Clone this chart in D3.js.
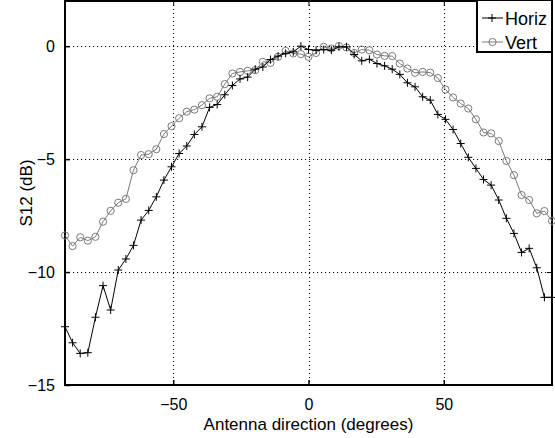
<!DOCTYPE html>
<html lang="en">
<head>
<meta charset="UTF-8">
<title>S12 vs antenna direction</title>
<style>
    body { margin: 0; background: #fff; }
    svg { display: block; font-family: "Liberation Sans", Arial, sans-serif; }
    .tick text { font-size: 16px; fill: #000; }
</style>
</head>
<body>
<svg width="555" height="438"></svg>
<script src="https://d3js.org/d3.v7.min.js"></script>
<script>
    // angle steps (degrees)
    const angles = [-90, -87.19, -84.38, -81.56, -78.75, -75.94, -73.13, -70.31, -67.5, -64.69,
        -61.88, -59.06, -56.25, -53.44, -50.63, -47.81, -45, -42.19, -39.38, -36.56,
        -33.75, -30.94, -28.13, -25.31, -22.5, -19.69, -16.88, -14.06, -11.25, -8.44,
        -5.63, -2.81, 0, 2.81, 5.63, 8.44, 11.25, 14.06, 16.88, 19.69,
        22.5, 25.31, 28.13, 30.94, 33.75, 36.56, 39.38, 42.19, 45, 47.81,
        50.63, 53.44, 56.25, 59.06, 61.88, 64.69, 67.5, 70.31, 73.13, 75.94,
        78.75, 81.56, 84.38, 87.19, 90];

    const horiz = [-12.42, -13.13, -13.60, -13.57, -12.0, -10.6, -11.68, -9.91, -9.42, -8.82,
        -7.70, -7.27, -6.67, -5.93, -5.34, -4.75, -4.42, -3.91, -3.57, -2.71,
        -2.58, -2.15, -1.74, -1.45, -1.37, -1.02, -0.92, -0.59, -0.44, -0.32,
        -0.25, 0.0, -0.15, -0.18, -0.15, -0.18, -0.03, -0.03, -0.37, -0.65,
        -0.58, -0.77, -0.87, -1.02, -1.25, -1.62, -1.80, -2.24, -2.39, -3.02,
        -3.24, -3.69, -4.31, -4.92, -5.41, -5.90, -6.15, -6.81, -7.62, -8.29,
        -9.13, -8.95, -9.81, -11.12, -11.12];

    const vert = [-8.38, -8.85, -8.46, -8.61, -8.44, -7.77, -7.29, -6.93, -6.76, -5.49,
        -4.82, -4.78, -4.56, -3.89, -3.54, -3.19, -2.90, -2.81, -2.61, -2.31,
        -2.24, -1.68, -1.21, -1.14, -1.09, -1.06, -0.69, -0.74, -0.47, -0.21,
        -0.32, -0.35, -0.47, -0.30, -0.03, -0.10, 0.01, -0.06, -0.30, -0.15,
        -0.18, -0.37, -0.43, -0.44, -0.77, -0.99, -1.18, -1.14, -1.17, -1.41,
        -1.92, -2.27, -2.54, -2.76, -3.24, -3.82, -3.86, -4.20, -5.08, -5.71,
        -6.59, -6.81, -7.40, -7.30, -7.73];

    const xTicks = [-50, 0, 50];
    const yTicks = [0, -5, -10, -15];
    const seriesNames = ["Horiz", "Vert"];

    const svg = d3.select("svg");
    const pLeft = 65, pRight = 552, pTop = 1, pBottom = 385;

    const x = d3.scaleLinear().domain([-90, 90]).range([pLeft, pRight]);
    const y = d3.scaleLinear().domain([-15, 2]).range([pBottom, pTop]);

    // dotted grid
    const grid = svg.append("g").attr("stroke", "#000").attr("stroke-width", 1.1)
        .attr("stroke-dasharray", "1.1,2.9");
    grid.selectAll(".gx").data(xTicks).join("line")
        .attr("x1", d => Math.round(x(d)) + 0.5).attr("x2", d => Math.round(x(d)) + 0.5)
        .attr("y1", pTop).attr("y2", pBottom);
    grid.selectAll(".gy").data(yTicks).join("line")
        .attr("y1", d => Math.round(y(d)) + 0.5).attr("y2", d => Math.round(y(d)) + 0.5)
        .attr("x1", pLeft).attr("x2", pRight);

    // axes (ticks inward, MATLAB style)
    const xAxis = d3.axisBottom(x).tickValues(xTicks).tickSizeInner(-5).tickSizeOuter(0).tickPadding(14);
    const yAxis = d3.axisLeft(y).tickValues(yTicks).tickSizeInner(-5).tickSizeOuter(0).tickPadding(10);
    svg.append("g").attr("transform", `translate(0,${pBottom})`).call(xAxis)
        .call(g => g.select(".domain").remove())
        .call(g => g.selectAll(".tick line").attr("stroke-width", 1.5));
    svg.append("g").attr("transform", `translate(${pLeft},0)`).call(yAxis)
        .call(g => g.select(".domain").remove())
        .call(g => g.selectAll(".tick line").attr("stroke-width", 1.5));
    svg.append("g").attr("transform", `translate(0,${pTop})`)
        .call(d3.axisTop(x).tickValues(xTicks).tickSizeInner(-5).tickSizeOuter(0).tickFormat(""))
        .call(g => g.select(".domain").remove());
    svg.append("g").attr("transform", `translate(${pRight},0)`)
        .call(d3.axisRight(y).tickValues(yTicks).tickSizeInner(-5).tickSizeOuter(0).tickFormat(""))
        .call(g => g.select(".domain").remove());
    svg.selectAll(".tick text").attr("font-family", "Liberation Sans, Arial, sans-serif").attr("font-size", 16.5);

    // box
    svg.append("rect").attr("x", pLeft).attr("y", pTop).attr("width", pRight - pLeft).attr("height", pBottom - pTop)
        .attr("fill", "none").attr("stroke", "#000").attr("stroke-width", 2);

    const line = d3.line().x(d => x(d[0])).y(d => y(d[1]));
    const hData = angles.map((a, i) => [a, horiz[i]]);
    const vData = angles.map((a, i) => [a, vert[i]]);

    // Vert series (grey, circles)
    const grey = "#7a7a7a";
    svg.append("path").datum(vData).attr("d", line).attr("fill", "none")
        .attr("stroke", grey).attr("stroke-width", 1);
    svg.append("g").selectAll("circle").data(vData).join("circle")
        .attr("cx", d => x(d[0])).attr("cy", d => y(d[1])).attr("r", 3.6)
        .attr("fill", "none").attr("stroke", grey).attr("stroke-width", 1);

    // Horiz series (black, plus)
    svg.append("path").datum(hData).attr("d", line).attr("fill", "none")
        .attr("stroke", "#000").attr("stroke-width", 1);
    svg.append("g").selectAll("path").data(hData).join("path")
        .attr("d", d => `M${x(d[0]) - 4},${y(d[1])}h8M${x(d[0])},${y(d[1]) - 4}v8`)
        .attr("stroke", "#000").attr("stroke-width", 1);

    // axis labels
    svg.append("text").attr("x", (pLeft + pRight) / 2).attr("y", 430).attr("text-anchor", "middle")
        .attr("font-size", 17).text("Antenna direction (degrees)");
    svg.append("text").attr("transform", `translate(32,${(pTop + pBottom) / 2}) rotate(-90)`)
        .attr("text-anchor", "middle").attr("font-size", 17).text("S12 (dB)");

    // legend
    const lg = svg.append("g");
    lg.append("rect").attr("x", 477).attr("y", 0).attr("width", 75).attr("height", 52)
        .attr("fill", "#fff").attr("stroke", "#000").attr("stroke-width", 2);
    seriesNames.forEach((name, i) => {
        const ly = 18 + i * 24;
        const col = i === 0 ? "#000" : grey;
        lg.append("line").attr("x1", 482).attr("x2", 503).attr("y1", ly).attr("y2", ly)
            .attr("stroke", col).attr("stroke-width", 1);
        if (i === 0) {
            lg.append("path").attr("d", `M488,${ly}h8M492,${ly - 4}v8`).attr("stroke", col);
        } else {
            lg.append("circle").attr("cx", 492.5).attr("cy", ly).attr("r", 3.6)
                .attr("fill", "none").attr("stroke", col);
        }
        lg.append("text").attr("x", 505).attr("y", ly + 6.5).attr("font-size", 18).text(name);
    });
</script>
</body>
</html>
